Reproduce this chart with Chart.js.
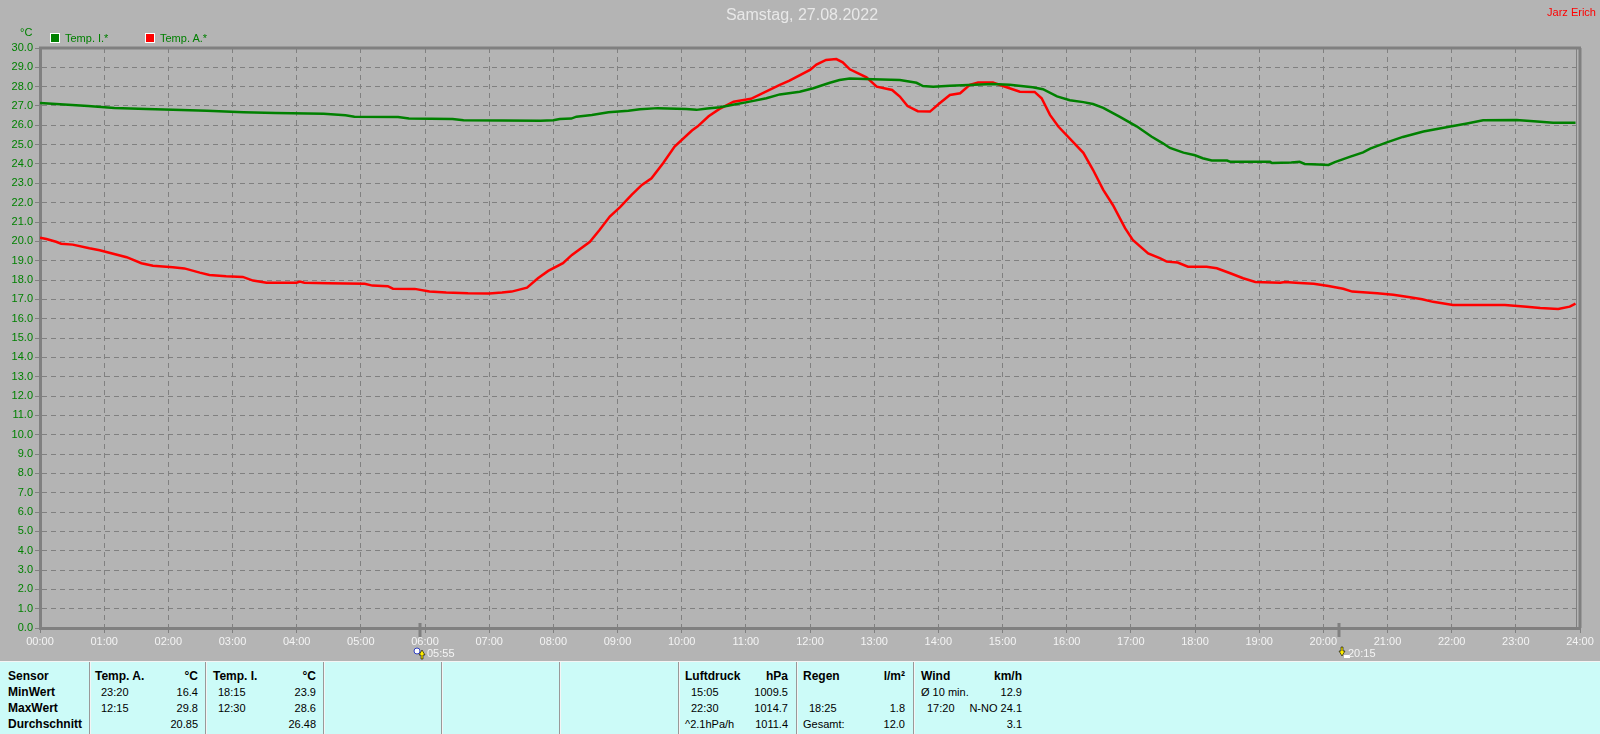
<!DOCTYPE html>
<html lang="de">
<head>
<meta charset="utf-8">
<title>Samstag, 27.08.2022</title>
<script src="https://cdn.jsdelivr.net/npm/chart.js@4"></script>
<style>
html,body{margin:0;padding:0;background:#b4b4b4;width:1600px;height:734px;overflow:hidden;font-family:"Liberation Sans",Arial,sans-serif}
#wrap{position:absolute;left:0;top:0;width:1600px;height:661px}
.t{position:absolute;white-space:pre;line-height:14px;font-size:11px}
#title{position:absolute;left:0;width:1604px;top:6px;text-align:center;font-size:16px;line-height:18px;color:#e8e8e8}
#panel{position:absolute;left:0;top:661px;width:1600px;height:73px;background:#ccfbf8;border-top:1px solid #f4f4f4;box-sizing:border-box}
.sep{position:absolute;top:0;bottom:0;width:1px;background:#999;border-right:1px solid #f4f4f4}
.p{position:absolute;white-space:pre;font-size:11px;line-height:14px;color:#000}
.b{font-weight:bold;font-size:12px;color:#000}
.sw{position:absolute;width:8px;height:8px;border:1px solid #fff}
</style>
</head>
<body>
<div id="wrap"><canvas id="c" width="1600" height="661"></canvas></div>
<div id="title"></div>
<div class="t" style="left:20px;top:25px;color:#008000">°C</div>
<div class="sw" style="left:50px;top:33px;background:#008000"></div>
<div class="t" id="leg0" style="left:65px;top:31px;color:#008000"></div>
<div class="sw" style="left:145px;top:33px;background:#ff0000"></div>
<div class="t" id="leg1" style="left:160px;top:31px;color:#008000"></div>
<div class="t" style="right:4px;top:5px;color:#ff0000">Jarz Erich</div>
<div id="panel"></div>
<script>
const greenHours=[0,.25,.5,.75,1.16,1.66,2.07,2.6,3.17,3.67,4.42,4.76,4.9,5.58,5.75,6.43,6.6,7.8,8.0,8.1,8.28,8.36,8.6,8.86,9.17,9.35,9.63,10.07,10.23,10.4,10.6,10.8,11.02,11.32,11.53,11.84,12.05,12.31,12.46,12.62,12.98,13.4,13.66,13.76,13.92,14.18,14.85,15.11,15.47,15.63,15.85,16.05,16.26,16.41,16.57,16.83,17.09,17.32,17.5,17.61,17.82,18.0,18.12,18.26,18.5,18.55,19.17,19.2,19.5,19.63,19.71,19.92,20.08,20.18,20.41,20.62,20.73,20.99,21.24,21.56,21.98,22.24,22.49,23.01,23.33,23.58,23.93];
const greenValues=[27.16,27.1,27.05,27.0,26.9,26.85,26.8,26.75,26.68,26.64,26.6,26.52,26.45,26.43,26.35,26.33,26.26,26.24,26.26,26.33,26.35,26.45,26.54,26.68,26.76,26.83,26.89,26.85,26.8,26.87,26.94,27.06,27.2,27.4,27.6,27.74,27.92,28.2,28.34,28.42,28.38,28.34,28.2,28.03,28.0,28.05,28.14,28.1,27.97,27.87,27.5,27.3,27.2,27.1,26.9,26.44,25.95,25.42,25.07,24.83,24.59,24.45,24.3,24.18,24.18,24.11,24.11,24.05,24.08,24.11,24.0,23.97,23.95,24.1,24.37,24.6,24.8,25.12,25.4,25.68,25.94,26.1,26.26,26.28,26.2,26.14,26.14];
const redHours=[0,.1,.25,.33,.51,.77,.93,1.35,1.58,1.76,2.07,2.25,2.49,2.64,2.9,3.16,3.32,3.53,4.0,4.05,4.12,4.49,5.06,5.18,5.42,5.5,5.84,6.07,6.33,6.67,7.0,7.2,7.35,7.59,7.76,7.92,8.15,8.29,8.57,8.72,8.88,9.04,9.22,9.38,9.53,9.71,9.89,10.16,10.25,10.42,10.59,10.81,11.08,11.53,11.68,12.0,12.1,12.25,12.41,12.51,12.62,12.88,13.04,13.28,13.4,13.52,13.68,13.87,14.02,14.18,14.34,14.49,14.62,14.85,15.11,15.27,15.5,15.61,15.74,15.87,16.26,16.41,16.57,16.72,16.91,17.03,17.27,17.46,17.56,17.73,17.89,18.18,18.34,18.55,18.75,18.94,19.33,19.4,19.63,19.85,20.08,20.31,20.45,20.84,21.09,21.35,21.54,21.71,22.02,22.83,23.17,23.38,23.66,23.84,23.93];
const redValues=[20.19,20.12,19.98,19.88,19.83,19.64,19.54,19.18,18.87,18.74,18.66,18.6,18.38,18.26,18.19,18.16,17.97,17.86,17.86,17.92,17.86,17.83,17.8,17.71,17.68,17.55,17.54,17.4,17.35,17.31,17.3,17.35,17.4,17.6,18.09,18.47,18.87,19.3,19.98,20.59,21.28,21.77,22.4,22.92,23.26,24.04,24.9,25.73,25.95,26.47,26.85,27.22,27.37,28.09,28.31,28.87,29.14,29.38,29.43,29.26,28.9,28.48,28.0,27.83,27.49,27.0,26.73,26.71,27.14,27.57,27.66,28.09,28.21,28.21,27.92,27.74,27.73,27.4,26.54,25.94,24.58,23.7,22.66,21.88,20.68,20.07,19.38,19.12,18.95,18.9,18.69,18.68,18.61,18.35,18.09,17.9,17.86,17.9,17.85,17.8,17.69,17.55,17.4,17.31,17.24,17.11,17.0,16.87,16.71,16.71,16.62,16.55,16.5,16.62,16.78];
const sunEvents=[{label:'05:55',hour:5.917,kind:'rise'},{label:'20:15',hour:20.25,kind:'set'}];
const chartTitle='Samstag, 27.08.2022';
const seriesNames=['Temp. I.*','Temp. A.*'];
const sensorLabels=['Sensor','MinWert','MaxWert','Durchschnitt'];
const tempA=[['Temp. A.','°C'],['23:20','16.4'],['12:15','29.8'],['','20.85']];
const tempI=[['Temp. I.','°C'],['18:15','23.9'],['12:30','28.6'],['','26.48']];
const pressure=[['Luftdruck','hPa'],['15:05','1009.5'],['22:30','1014.7'],['^2.1hPa/h','1011.4']];
const rain=[['Regen','l/m²'],['',''],['18:25','1.8'],['Gesamt:','12.0']];
const wind=[['Wind','km/h'],['Ø 10 min.','12.9'],['17:20','N-NO 24.1'],['','3.1']];

document.getElementById('title').textContent=chartTitle;
document.getElementById('leg0').textContent=seriesNames[0];
document.getElementById('leg1').textContent=seriesNames[1];

const pts=(ts,vs)=>vs.map((v,i)=>({x:ts[i],y:v}));
const hhmm=h=>String(h).padStart(2,'0')+':00';
const AX='#808080';
const FONT='"Liberation Sans",Arial,sans-serif';

const frame={id:'frame',afterDraw(ch){
  const {ctx,chartArea:a,scales:{x}}=ch;
  ctx.save();
  ctx.strokeStyle=AX;ctx.lineWidth=3;
  ctx.beginPath();ctx.moveTo(a.left-1,a.top);ctx.lineTo(a.right+1,a.top);ctx.moveTo(a.right,a.top);ctx.lineTo(a.right,a.bottom);ctx.stroke();
  ctx.lineWidth=1;const end=Math.round(x.getPixelForValue(23.93))+.5;
  ctx.beginPath();ctx.moveTo(end,a.top);ctx.lineTo(end,a.bottom);ctx.stroke();
  ctx.font='11px '+FONT;ctx.textBaseline='middle';ctx.textAlign='left';
  sunEvents.forEach(s=>{
    const px=Math.round(x.getPixelForValue(s.hour));
    ctx.strokeStyle=AX;ctx.lineWidth=3;
    ctx.beginPath();ctx.moveTo(px,a.bottom-5);ctx.lineTo(px,a.bottom+9);ctx.stroke();
    const rise=s.kind==='rise';
    const ax=rise?px+2:px+3,ay=a.bottom+24;
    if(rise){
      ctx.fillStyle='#fff';ctx.strokeStyle='#3040c0';ctx.lineWidth=1;
      ctx.beginPath();ctx.arc(px-3,a.bottom+23,3,0,7);ctx.fill();ctx.stroke();
    }else{
      ctx.fillStyle='#fff';ctx.fillRect(px+5,a.bottom+27,6,3);
    }
    ctx.fillStyle='#ffee00';ctx.strokeStyle='#000';ctx.lineWidth=.6;
    ctx.beginPath();
    if(rise){ctx.moveTo(ax,ay-2);ctx.lineTo(ax+3,ay+3);ctx.lineTo(ax+1,ay+3);ctx.lineTo(ax+1,ay+7);ctx.lineTo(ax-1,ay+7);ctx.lineTo(ax-1,ay+3);ctx.lineTo(ax-3,ay+3);}
    else{ctx.moveTo(ax,ay+4);ctx.lineTo(ax+3,ay-1);ctx.lineTo(ax+1,ay-1);ctx.lineTo(ax+1,ay-5);ctx.lineTo(ax-1,ay-5);ctx.lineTo(ax-1,ay-1);ctx.lineTo(ax-3,ay-1);}
    ctx.closePath();ctx.fill();ctx.stroke();
    ctx.fillStyle='#f4f4f4';
    ctx.fillText(s.label,px+7+(rise?0:2),a.bottom+26);
  });
  ctx.restore();
}};

new Chart(document.getElementById('c'),{
  type:'line',
  data:{datasets:[
    {label:seriesNames[0],data:pts(greenHours,greenValues),borderColor:'#008000',backgroundColor:'#008000',borderWidth:2.5,pointRadius:0,tension:0},
    {label:seriesNames[1],data:pts(redHours,redValues),borderColor:'#ff0000',backgroundColor:'#ff0000',borderWidth:2.5,pointRadius:0,tension:0}
  ]},
  plugins:[frame],
  options:{
    responsive:false,animation:false,devicePixelRatio:1,parsing:false,
    layout:{padding:{left:0,right:20,top:48,bottom:0}},
    plugins:{legend:{display:false},tooltip:{enabled:false},title:{display:false}},
    scales:{
      x:{type:'linear',min:0,max:24,
        afterFit(s){s.height=33},
        afterBuildTicks(s){const t=[];for(let h=0;h<=24;h++)t.push({value:h});s.ticks=t},
        ticks:{autoSkip:false,maxRotation:0,minRotation:0,color:'#f4f4f4',padding:2,font:{family:FONT,size:11},callback:v=>hhmm(v)},
        grid:{color:'#808080',lineWidth:1,tickLength:5,tickColor:'#808080',tickBorderDash:[]},
        border:{color:AX,width:3,dash:[5,4]}
      },
      y:{min:0,max:30,
        afterFit(s){s.width=40},
        ticks:{stepSize:1,autoSkip:false,color:'#008000',padding:2,font:{family:FONT,size:11},callback:v=>v.toFixed(1)},
        grid:{color:'#808080',lineWidth:1,tickLength:5,tickColor:'#808080',tickBorderDash:[]},
        border:{color:AX,width:3,dash:[5,4]}
      }
    }
  }
});

const panel=document.getElementById('panel');
const rowsY=[7,23,39,55];
[89,205,323,441,559,678,796,913].forEach(x=>{const d=document.createElement('div');d.className='sep';d.style.left=x+'px';panel.appendChild(d)});
function put(text,x,y,bold,right){
  if(!text)return;
  const d=document.createElement('div');d.className=bold?'p b':'p';d.textContent=text;
  d.style.top=y+'px';
  if(right)d.style.right=(1600-x)+'px';else d.style.left=x+'px';
  panel.appendChild(d);
}
sensorLabels.forEach((s,i)=>put(s,8,rowsY[i],true,false));
[[tempA,95,101,198],[tempI,213,218,316],[pressure,685,691,788],[rain,803,809,905],[wind,921,927,1022]].forEach(([tbl,hx,tx,rx])=>{
  tbl.forEach((r,i)=>{
    const isHead=i===0;
    const edge=(tbl===pressure&&i===3)||(tbl===rain&&i===3)||(tbl===wind&&i===1);
    put(r[0],isHead||edge?hx:tx,rowsY[i],isHead,false);
    put(r[1],rx,rowsY[i],isHead,true);
  });
});
</script>
</body>
</html>
